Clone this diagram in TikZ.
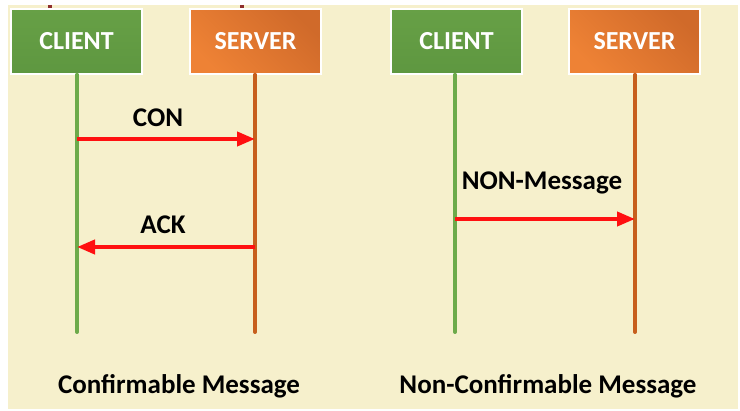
\documentclass[tikz,border=0pt]{standalone}
\usepackage{fontspec}
\setmainfont{Carlito}
\usetikzlibrary{arrows.meta,shadings}
\definecolor{cream}{HTML}{F6F0CC}
\definecolor{boxgreen}{HTML}{5E9740}
\definecolor{boxgreenL}{HTML}{67A046}
\definecolor{boxorange}{HTML}{D06A2A}
\definecolor{boxorangeL}{HTML}{EE8235}
\definecolor{lgreen}{HTML}{6DAA4A}
\definecolor{lorange}{HTML}{C75F1D}
\definecolor{tick}{HTML}{8E2F2B}
\definecolor{msgred}{HTML}{FF1010}
\tikzset{
  x=1pt,y=-1pt,
  actor/.style={minimum width=131pt,minimum height=65pt,inner sep=0pt,
    text=white,font=\fontsize{26}{28}\selectfont\bfseries,draw=white,line width=1.5pt},
  cbox/.style={actor,top color=boxgreenL,bottom color=boxgreen},
  sbox/.style={actor,left color=boxorangeL,right color=boxorange,shading angle=135},
  gline/.style={lgreen,line width=4pt,line cap=round},
  oline/.style={lorange,line width=4pt,line cap=round},
  msg/.style={msgred,line width=4pt,-{Triangle[length=18pt,width=14pt]}},
  lbl/.style={font=\fontsize{27}{29}\selectfont\bfseries,text=black,inner sep=0pt},
  captext/.style={font=\fontsize{27}{29}\selectfont\bfseries,text=black,inner sep=0pt},
  tickmark/.style={tick,line width=4pt}
}
\begin{document}
\begin{tikzpicture}
\useasboundingbox (0,0) rectangle (740,411);
\fill[white] (0,0) rectangle (740,411);
\fill[cream] (8,5) rectangle (738,409);
% tick marks above first pair
\draw[tickmark] (50,5) -- (50,9);
\draw[tickmark] (242,5) -- (242,9);
% boxes
\node[cbox] (c1) at (76.5,41.5) {CLIENT};
\node[sbox] (s1) at (255.5,41.5) {SERVER};
\node[cbox] (c2) at (456.5,41.5) {CLIENT};
\node[sbox] (s2) at (634.5,41.5) {SERVER};
% lifeline ends
\coordinate (c1e) at (77,332);
\coordinate (s1e) at (255,332);
\coordinate (c2e) at (455,332);
\coordinate (s2e) at (635,332);
\draw[gline] ([xshift=0.5pt]c1.south) -- (c1e);
\draw[oline] ([xshift=-0.5pt]s1.south) -- (s1e);
\draw[gline] ([xshift=-1.5pt]c2.south) -- (c2e);
\draw[oline] ([xshift=0.5pt]s2.south) -- (s2e);
% messages
\coordinate (c1a) at (77,139);
\coordinate (s1a) at (255,139);
\coordinate (c1b) at (77,247);
\coordinate (s1b) at (255,247);
\coordinate (c2a) at (455,219);
\coordinate (s2a) at (635,219);
\draw[msg] (c1a) -- (s1a);
\draw[msg] (s1b) -- (c1b);
\draw[msg] (c2a) -- (s2a);
\node[lbl] (con) at (158,118) {CON};
\node[lbl] (ack) at (163,225) {ACK};
\node[lbl] (non) at (542,183) {NON-Message};
\node[captext] (cap1) at (179,386) {Confirmable Message};
\node[captext] (cap2) at (548,386) {Non-Confirmable Message};
\end{tikzpicture}
\end{document}
